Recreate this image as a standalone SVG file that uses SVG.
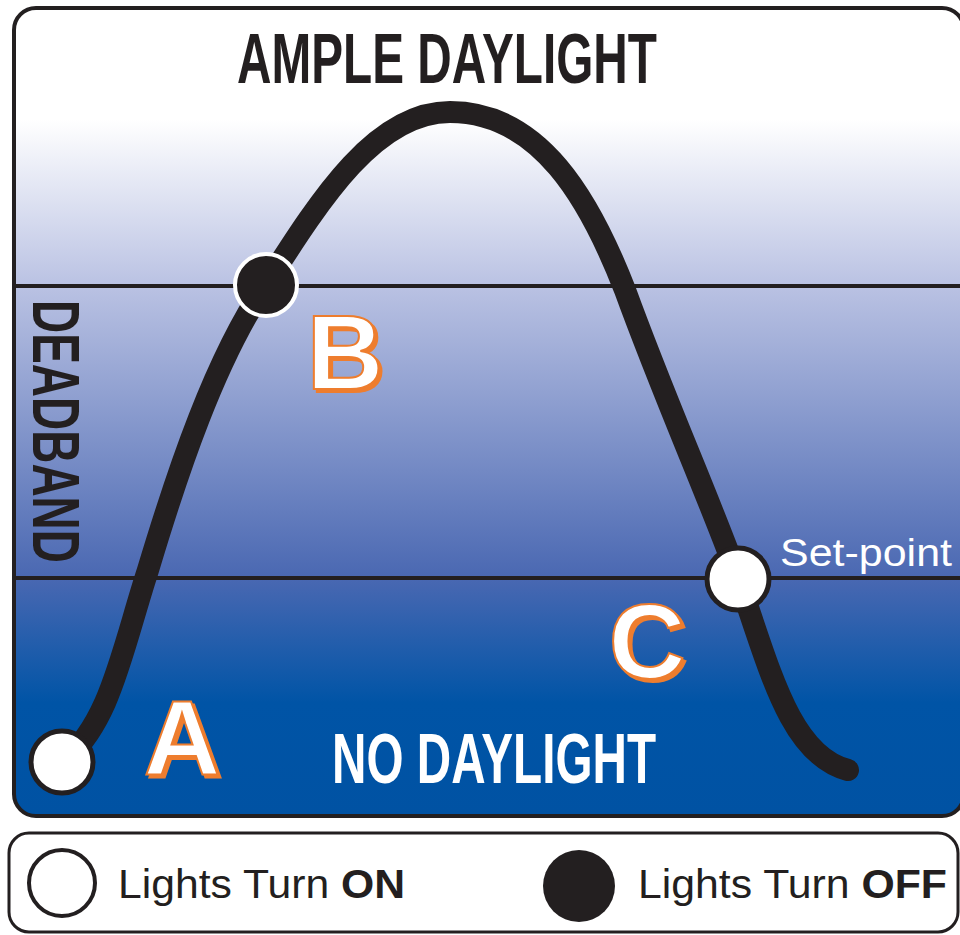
<svg xmlns="http://www.w3.org/2000/svg" width="960" height="935" viewBox="0 0 960 935">
<defs>
<linearGradient id="sky" gradientUnits="userSpaceOnUse" x1="0" y1="6" x2="0" y2="816">
<stop offset="0" stop-color="#ffffff"/>
<stop offset="0.14" stop-color="#ffffff"/>
<stop offset="0.345" stop-color="#bac2e3"/>
<stop offset="0.705" stop-color="#4a68b2"/>
<stop offset="0.86" stop-color="#0054a6"/>
<stop offset="1" stop-color="#0052a3"/>
</linearGradient>
<filter id="shadow" x="-20%" y="-20%" width="140%" height="140%">
<feOffset in="SourceAlpha" dx="3" dy="3" result="off"/>
<feFlood flood-color="#ee7d2d" result="col"/>
<feComposite in="col" in2="off" operator="in" result="sh"/>
<feMerge><feMergeNode in="sh"/><feMergeNode in="SourceGraphic"/></feMerge>
</filter>
<style>
.frame{fill:url(#sky);stroke:#231f20;stroke-width:4}
.band{stroke:#231f20;stroke-width:4}
.curve{fill:none;stroke:#231f20;stroke-width:22;stroke-linecap:round}
.open{fill:#ffffff;stroke:#231f20;stroke-width:5}
.shut{fill:#231f20;stroke:#ffffff;stroke-width:4}
.cond{font-family:"Liberation Sans",Arial,sans-serif;font-weight:bold}
.letter{font-family:"Liberation Sans",Arial,sans-serif;font-weight:bold;font-size:106px;text-anchor:middle;fill:#ffffff;stroke:#ee7d2d;stroke-width:2;filter:url(#shadow)}
.legend{font-family:"Liberation Sans",Arial,sans-serif;font-size:41px;fill:#231f20}
</style>
</defs>
<g id="chart">
<rect class="frame" x="14" y="8" width="950" height="808" rx="22"/>
<line class="band" x1="14" y1="286" x2="962" y2="286"/>
<line class="band" x1="14" y1="578" x2="962" y2="578"/>
</g>
<g id="zone-labels">
<text class="cond" x="447" y="83" font-size="70" fill="#231f20" text-anchor="middle" textLength="420" lengthAdjust="spacingAndGlyphs">AMPLE DAYLIGHT</text>
<text class="cond" x="494" y="783" font-size="70" fill="#ffffff" text-anchor="middle" textLength="324" lengthAdjust="spacingAndGlyphs">NO DAYLIGHT</text>
<text class="cond" transform="translate(33,300) rotate(90)" x="0" y="0" font-size="67" fill="#231f20" textLength="263" lengthAdjust="spacingAndGlyphs">DEADBAND</text>
<text x="780" y="566" font-family="Liberation Sans,Arial,sans-serif" font-size="39" fill="#ffffff" textLength="172" lengthAdjust="spacingAndGlyphs">Set-point</text>
</g>
<g id="connectors">
<path class="curve" d="M62,762 C110,725 122,650 148,570 C178,470 215,360 265,286 C320,200 375,112 450,112 C540,112 590,200 625,290 C665,400 710,500 738,578 C770,670 790,755 848,770"/>
</g>
<g id="node-A">
<circle class="open" cx="62" cy="762" r="31"/>
<text class="letter" x="182" y="775">A</text>
</g>
<g id="node-B">
<circle class="shut" cx="266" cy="285" r="31"/>
<text class="letter" x="345" y="389">B</text>
</g>
<g id="node-C">
<circle class="open" cx="738" cy="579" r="31"/>
<text class="letter" x="647" y="678">C</text>
</g>
<g id="legend">
<rect x="9" y="833" width="949" height="99" rx="20" fill="#ffffff" stroke="#231f20" stroke-width="3"/>
<circle cx="62" cy="883" r="33" fill="#ffffff" stroke="#231f20" stroke-width="4"/>
<text class="legend" x="118" y="898" textLength="287" lengthAdjust="spacingAndGlyphs">Lights Turn <tspan font-weight="bold">ON</tspan></text>
<circle cx="579" cy="886" r="36" fill="#231f20"/>
<text class="legend" x="638" y="898" textLength="309" lengthAdjust="spacingAndGlyphs">Lights Turn <tspan font-weight="bold">OFF</tspan></text>
</g>
</svg>
